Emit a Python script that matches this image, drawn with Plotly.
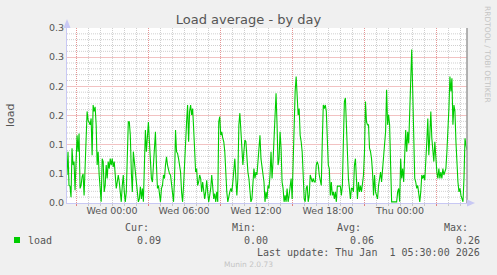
import plotly.graph_objects as go
import pandas as pd

# ---- data (load average, 5-minute samples) ----
load_1 = [0.048,0.088,0.030,0.029,0.010,0.094,0.065,0.071,0.022,0.076,0.116,0.088,0.119,0.025,0.030,0.045,
          0.050,0.013,0.076,0.134,0.157,0.142,0.139,0.134,0.145,0.082,0.168,0.157,0.165,0.134,0.065,0.088,
          0.048,0.030,0.002,0.076,0.071,0.019,0.030,0.065,0.042,0.071,0.059,0.076,0.065,0.076,0.062,0.071,
          0.048,0.025,0.036,0.048,0.036,0.013,0.002,0.030,0.048,0.019,0.002,0.019,0.088,0.139]
load_2 = [0.139,0.116,0.053,0.019,0.088,0.071,0.053,0.036,0.019,0.002,0.007,0.028,0.007,0.025,0.002,0.059,
          0.125,0.088,0.108,0.139,0.105,0.071,0.042,0.036,0.071,0.105,0.122,0.065,0.025,0.030,0.019,0.002,
          0.025,0.030,0.048,0.042,0.065,0.079,0.065,0.053,0.050,0.048,0.030,0.013,0.002,0.042,0.125,0.088,
          0.085,0.076,0.065,0.053,0.019,0.002,0.030,0.076,0.094,0.139,0.168,0.105,0.157,0.168,0.151,0.162,
          0.128,0.088,0.053]
load_3 = [0.059,0.030,0.036,0.048,0.042,0.019,0.036,0.019,0.007,0.019,0.039,0.019,0.002,0.013,0.025,0.048,
          0.030,0.007,0.016,0.002,0.019,0.002,0.139,0.148,0.116,0.122,0.111,0.105,0.088,0.036,0.019,0.002,
          0.013,0.019,0.025,0.019,0.036,0.059,0.076,0.042,0.013,0.042,0.134,0.154,0.116,0.076,0.065,0.088,
          0.108,0.105,0.071,0.053,0.042,0.019,0.002,0.007,0.048,0.059,0.042,0.053,0.048,0.076,0.088,0.116,
          0.076,0.065,0.053]
load_4 = [0.036,0.002,0.019,0.007,0.030,0.025,0.048,0.088,0.042,0.071,0.116,0.145,0.188,0.134,0.065,0.076,
          0.122,0.094,0.036,0.025,0.002,0.013,0.002,0.025,0.002,0.013,0.025,0.042,0.007,0.076,0.157,0.191,
          0.217,0.191,0.151,0.162,0.116,0.105,0.088,0.048,0.007,0.002,0.025,0.030,0.002,0.013,0.048,0.042,
          0.036,0.042,0.036,0.036,0.065,0.071,0.065,0.048,0.036,0.030,0.105,0.168,0.162,0.168,0.157,0.094,
          0.065,0.059,0.013]
load_5 = [0.036,0.013,0.019,0.007,0.019,0.002,0.029,0.029,0.030,0.029,0.013,0.030,0.105,0.174,0.180,0.134,
          0.071,0.042,0.025,0.007,0.025,0.025,0.019,0.065,0.076,0.036,0.007,0.036,0.019,0.030,0.019,0.033,
          0.048,0.088,0.174,0.139,0.134,0.134,0.094,0.088,0.076,0.053,0.013,0.048,0.019,0.013,0.007,0.030,
          0.042,0.053,0.036,0.059,0.065,0.088,0.122,0.194,0.134,0.151,0.134,0.065,0.002,0.002,0.002,0.002,
          0.002,0.002,0.019]
load_6 = [0.025,0.002,0.076,0.042,0.059,0.036,0.071,0.125,0.088,0.122,0.102,0.165,0.191,0.263,0.191,0.134,
          0.042,0.036,0.025,0.030,0.019,0.002,0.019,0.048,0.042,0.048,0.039,0.065,0.105,0.145,0.082,0.116,
          0.157,0.111,0.088,0.071,0.105,0.065,0.053,0.042,0.059,0.042,0.053,0.042,0.059,0.048,0.053,0.059,
          0.088,0.122,0.162,0.217,0.191,0.214,0.134,0.168,0.157,0.105,0.065,0.036,0.019,0.025,0.013,0.007,
          0.002,0.042,0.111,0.099,0.090]
load = load_1 + load_2 + load_3 + load_4 + load_5 + load_6

t_start = "2025-12-30 20:15"
t_end = "2026-01-01 05:35"
times = pd.date_range(t_start, t_end, periods=len(load))

y_ticks = [0, 0.05, 0.10, 0.15, 0.20, 0.25, 0.30]
y_ticktext = ["0.0", "0.1", "0.1", "0.2", "0.2", "0.3", "0.3"]
y_minor = [round(i * 0.01, 2) for i in range(1, 30) if i % 5]

stats_labels = ["Cur:", "Min:", "Avg:", "Max:"]
stats_values = ["0.09", "0.00", "0.06", "0.26"]
last_update = "Last update: Thu Jan\u00a0\u00a01 05:30:00 2026"

GREEN = "#00CC00"
TXT = "#555555"
MONO = "DejaVu Sans Mono"
SANS = "DejaVu Sans"
MAJOR = "#E49494"
MAJOR_H = "#F2C2C2"
MINOR = "#CFCFCF"
DOTS = "1px,1px"

fig = go.Figure()
fig.add_trace(go.Scatter(x=times, y=load, mode="lines", line=dict(color=GREEN, width=1.1),
                         showlegend=False, hoverinfo="skip"))
# invisible trace to carry the time-label axis
fig.add_trace(go.Scatter(x=[times[0], times[-1]], y=[0, 0], mode="lines", xaxis="x2",
                         line=dict(color="rgba(0,0,0,0)", width=0), showlegend=False, hoverinfo="skip"))

W, H = 497, 275
L, R, T, B = 67, 30, 28, 72
PW, PH = W - L - R, H - T - B


def px(x):
    return (x - L) / PW


def py(y):
    return (T + PH - y) / PH


fig.update_layout(
    width=W, height=H,
    margin=dict(l=L, r=R, t=T, b=B, pad=0),
    paper_bgcolor="#F0F0F0", plot_bgcolor="#FFFFFF",
    title=dict(text="Load average - by day", x=0.5, xref="container", xanchor="center",
               y=1 - 19 / H, yref="container", yanchor="middle",
               font=dict(family=SANS, size=13, color=TXT)),
    xaxis=dict(type="date", range=[t_start, t_end], tick0="2025-12-30 21:00", dtick=6 * 3600 * 1000,
               showgrid=True, gridcolor=MAJOR, griddash=DOTS, gridwidth=1,
               showticklabels=False, ticks="outside", ticklen=2, tickcolor="#E08080",
               minor=dict(dtick=3600 * 1000, tick0="2025-12-30 21:00", showgrid=True,
                          gridcolor=MINOR, griddash=DOTS, ticks="outside", ticklen=2,
                          tickcolor="#C8C8C8"),
               showline=True, linecolor="#C8C8F4", linewidth=1, zeroline=False),
    xaxis2=dict(type="date", range=[t_start, t_end], overlaying="x", anchor="y", side="bottom",
                tick0="2025-12-31 00:00", dtick=6 * 3600 * 1000, tickformat="%a %H:%M",
                showgrid=False, showline=False, ticks="", zeroline=False,
                tickfont=dict(family=SANS, size=9.5, color=TXT)),
    yaxis=dict(range=[0, 0.3], tickvals=y_ticks, ticktext=y_ticktext,
               showgrid=True, gridcolor=MAJOR_H, griddash="solid", gridwidth=1,
               showline=True, linecolor="#C8C8F4", linewidth=1, zeroline=False, ticks="",
               tickfont=dict(family=SANS, size=9.5, color=TXT)),
)

shapes = []
# light gray minor horizontal grid (kept apart from the red major grid)
for yv in y_minor:
    shapes.append(dict(type="line", xref="paper", yref="y", x0=0, x1=1, y0=yv, y1=yv,
                       layer="below", line=dict(color=MINOR, width=1, dash=DOTS)))
shapes += [
    dict(type="line", xref="paper", yref="paper", x0=1, x1=1, y0=0, y1=1,
         line=dict(color="#9A9A9A", width=1.5)),
    dict(type="path", xref="paper", yref="paper", xsizemode="pixel", ysizemode="pixel",
         xanchor=0, yanchor=1, path="M -3.5,0 L 3.5,0 L 0,9 Z",
         fillcolor="#C8C8F4", line=dict(width=0)),
    dict(type="path", xref="paper", yref="paper", xsizemode="pixel", ysizemode="pixel",
         xanchor=1, yanchor=0, path="M 0,-3.5 L 0,3.5 L 8,0 Z",
         fillcolor="#C8C8F4", line=dict(width=0)),
    dict(type="rect", xref="paper", yref="paper", x0=px(14), x1=px(20), y0=py(243), y1=py(237),
         fillcolor=GREEN, line=dict(width=0)),
]
fig.update_layout(shapes=shapes)

ann = []
ann.append(dict(text="load", x=px(10), y=py(115), textangle=-90,
                font=dict(family=SANS, size=11, color=TXT), xanchor="center", yanchor="middle"))
ann.append(dict(text="RRDTOOL / TOBI OETIKER", x=px(488), y=py(54), textangle=90,
                font=dict(family=SANS, size=7.5, color="#C4C4C4"), xanchor="center", yanchor="middle"))
ann.append(dict(text="load", x=px(26), y=py(240), xanchor="left", yanchor="middle",
                font=dict(family=MONO, size=10, color=TXT)))
label_right = [151, 258, 363, 470]
value_right = [163, 270, 376, 482]
for lab, val, lr, vr in zip(stats_labels, stats_values, label_right, value_right):
    ann.append(dict(text=lab, x=px(lr), y=py(227), xanchor="right", yanchor="middle",
                    font=dict(family=MONO, size=10, color=TXT)))
    ann.append(dict(text=val, x=px(vr), y=py(240), xanchor="right", yanchor="middle",
                    font=dict(family=MONO, size=10, color=TXT)))
ann.append(dict(text=last_update, x=px(482), y=py(252), xanchor="right", yanchor="middle",
                font=dict(family=MONO, size=10, color=TXT)))
ann.append(dict(text="Munin 2.0.73", x=px(248), y=py(264), xanchor="center", yanchor="middle",
                font=dict(family=SANS, size=7.5, color="#C4C4C4")))
for a in ann:
    a.update(xref="paper", yref="paper", showarrow=False)
fig.update_layout(annotations=ann)

fig.write_html("out.html")
